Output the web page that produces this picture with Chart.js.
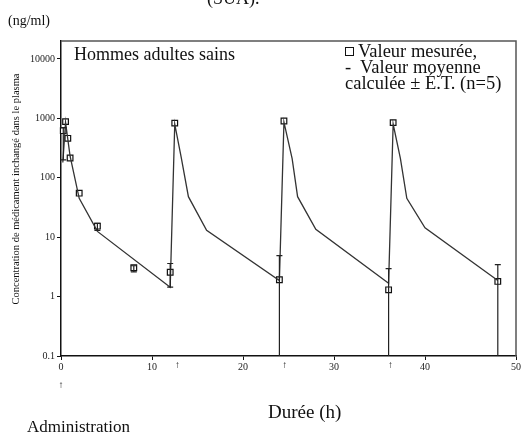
<!DOCTYPE html>
<html>
<head>
<meta charset="utf-8">
<script src="https://cdn.jsdelivr.net/npm/chart.js@4.4.1/dist/chart.umd.min.js"></script>
<style>
  html, body { margin: 0; padding: 0; background: #fff; }
  canvas { display: block; }
</style>
</head>
<body>
<canvas id="pk" width="522" height="434"></canvas>
<script>
// measured values (squares)
const measT = [0.25, 0.5, 0.75, 1, 2, 4, 8, 12, 12.5, 24, 24.5, 36, 36.5, 48];
const measC = [620, 880, 460, 215, 55, 15.3, 3.06, 2.57, 830, 1.92, 900, 1.3, 846, 1.8];

// calculated mean curve
const fitT = [0.2, 0.5, 1, 2, 4, 12, 12.5, 13.2, 14, 16, 24, 24.5, 25.4, 26, 28, 36, 36.5, 37.3, 38, 40, 48];
const fitC = [180, 850, 230, 45, 12.5, 1.44, 800, 224, 48, 13, 1.87, 860, 210, 48, 13.6, 1.67, 800, 210, 45, 14.4, 1.87];

// ± SD (0 = below the axis)
const errT  = [0.25, 4, 8, 12, 24, 36, 48];
const errLo = [200, 13, 2.6, 1.44, 0, 0, 0];
const errHi = [700, 17, 3.3, 3.6, 4.9, 2.96, 3.45];

// dose arrows
const doseT = [0, 12.8, 24.6, 36.2];

const yTicks = [0.1, 1, 10, 100, 1000, 10000];
const yTickLabels = ['0.1', '1', '10', '100', '1000', '10000'];
const xTicks = [0, 10, 20, 30, 40, 50];

const serif = '"Liberation Serif", "Times New Roman", serif';

const errorBars = {
    id: 'errorBars',
    afterDatasetsDraw(chart) {
        const { ctx, chartArea, scales: { x, y } } = chart;
        ctx.save();
        ctx.strokeStyle = '#222';
        ctx.lineWidth = 1.2;
        errT.forEach((t, i) => {
            const px = x.getPixelForValue(t);
            const top = y.getPixelForValue(errHi[i]);
            const bot = errLo[i] > 0 ? y.getPixelForValue(errLo[i]) : chartArea.bottom;
            ctx.beginPath();
            ctx.moveTo(px, top);
            ctx.lineTo(px, bot);
            ctx.moveTo(px - 3, top);
            ctx.lineTo(px + 3, top);
            if (errLo[i] > 0) {
                ctx.moveTo(px - 3, bot);
                ctx.lineTo(px + 3, bot);
            }
            ctx.stroke();
        });
        ctx.restore();
    }
};

const decor = {
    id: 'decor',
    afterDraw(chart) {
        const { ctx, chartArea: a, scales: { x } } = chart;
        ctx.save();
        // frame top / right
        ctx.strokeStyle = '#555';
        ctx.lineWidth = 1.5;
        ctx.beginPath();
        ctx.moveTo(a.left, a.top);
        ctx.lineTo(a.right, a.top);
        ctx.lineTo(a.right, a.bottom);
        ctx.stroke();

        ctx.fillStyle = '#111';
        ctx.textBaseline = 'alphabetic';
        ctx.textAlign = 'left';
        ctx.font = '18px ' + serif;
        ctx.fillText('(SUA).', 207, 4);

        ctx.font = '14px ' + serif;
        ctx.fillText('(ng/ml)', 8, 25);

        ctx.font = '18px ' + serif;
        ctx.fillText('Hommes adultes sains', 74, 60);

        // legend
        ctx.font = '18.5px ' + serif;
        ctx.lineWidth = 1;
        ctx.strokeStyle = '#111';
        ctx.strokeRect(345.5, 47.5, 8, 8);
        ctx.fillText('Valeur mesurée,', 358, 57);
        ctx.fillText('-', 345, 73);
        ctx.fillText('Valeur moyenne', 360, 73);
        ctx.fillText('calculée ± É.T. (n=5)', 345, 89);

        ctx.font = '19px ' + serif;
        ctx.fillText('Durée (h)', 268, 418);
        ctx.font = '17px ' + serif;
        ctx.fillText('Administration', 27, 432);

        // dose arrows
        ctx.font = '10px ' + serif;
        ctx.textAlign = 'center';
        doseT.forEach((t, i) => {
            const px = x.getPixelForValue(t);
            ctx.fillText('↑', px, i === 0 ? 388 : 368);
        });

        // y title
        ctx.translate(19, 189);
        ctx.rotate(-Math.PI / 2);
        ctx.font = '10.5px ' + serif;
        ctx.fillText('Concentration de médicament inchangé dans le plasma', 0, 0);
        ctx.restore();
    }
};

new Chart(document.getElementById('pk'), {
    type: 'scatter',
    data: {
        datasets: [
            {
                label: 'Valeur moyenne calculée',
                data: fitT.map((t, i) => ({ x: t, y: fitC[i] })),
                showLine: true,
                borderColor: '#333',
                borderWidth: 1.3,
                pointRadius: 0,
                tension: 0
            },
            {
                label: 'Valeur mesurée',
                data: measT.map((t, i) => ({ x: t, y: measC[i] })),
                pointStyle: 'rect',
                pointRadius: 4,
                backgroundColor: '#fff',
                borderColor: '#111',
                borderWidth: 1.2
            }
        ]
    },
    options: {
        responsive: false,
        animation: false,
        clip: false,
        layout: { padding: { top: 41, right: 5, left: 0, bottom: 0 } },
        plugins: { legend: { display: false }, tooltip: { enabled: false } },
        scales: {
            x: {
                type: 'linear',
                min: 0,
                max: 50,
                afterBuildTicks: s => { s.ticks = xTicks.map(v => ({ value: v })); },
                ticks: { color: '#222', font: { family: serif, size: 10 }, padding: 1, maxRotation: 0 },
                grid: { drawOnChartArea: false, tickLength: 4, color: '#111' },
                border: { color: '#111', width: 1.5 },
                afterFit: s => { s.height = 78; }
            },
            y: {
                type: 'logarithmic',
                min: 0.1,
                max: 20000,
                afterBuildTicks: s => { s.ticks = yTicks.map(v => ({ value: v })); },
                ticks: {
                    color: '#222',
                    font: { family: serif, size: 10 },
                    padding: 2,
                    callback: (v) => yTickLabels[yTicks.indexOf(v)] ?? ''
                },
                grid: { drawOnChartArea: false, tickLength: 4, color: '#111' },
                border: { color: '#111', width: 1.5 },
                afterFit: s => { s.width = 61; }
            }
        }
    },
    plugins: [errorBars, decor]
});
</script>
</body>
</html>
